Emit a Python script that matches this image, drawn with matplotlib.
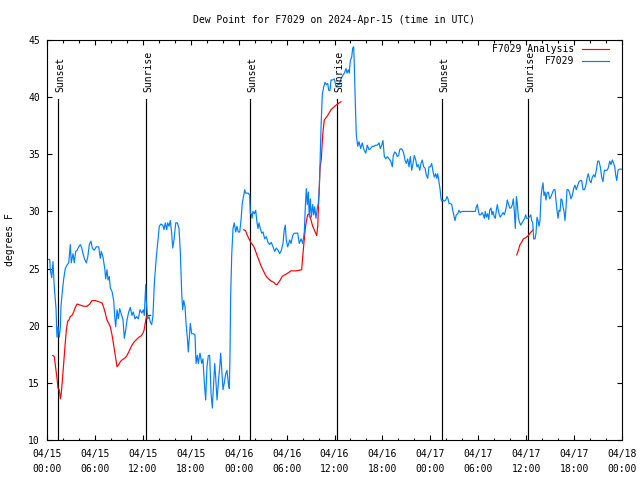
import matplotlib
matplotlib.use("Agg")
import matplotlib.pyplot as plt
from matplotlib.ticker import MultipleLocator

# ---- data (time in hours since 2024-04-15 00:00 UTC, dew point in F) ----
obs_hours = [0.00, 0.34, 0.41, 0.59, 0.75, 0.91, 1.13, 1.25, 1.38, 1.54, 1.67, 1.75, 1.92, 2.09, 2.29, 2.50,
             2.72, 2.92, 3.04, 3.26, 3.42, 3.59, 3.76, 3.97, 4.17, 4.35, 4.51, 4.67, 4.92, 5.10, 5.30, 5.51,
             5.67, 5.92, 6.17, 6.47, 6.67, 6.80, 7.01, 7.23, 7.35, 7.51, 7.64, 7.80, 7.93, 8.14, 8.35, 8.48,
             8.60, 8.77, 8.93, 9.10, 9.27, 9.52, 9.68, 9.85, 10.02, 10.23, 10.43, 10.64, 10.81, 11.02, 11.23,
             11.43, 11.65, 11.86, 12.06, 12.18, 12.36, 12.43, 12.61, 12.77, 12.94, 13.11, 13.27, 13.44, 13.65,
             13.86, 14.06, 14.27, 14.49, 14.65, 14.81, 14.99, 15.11, 15.28, 15.44, 15.61, 15.74, 15.90, 16.12,
             16.32, 16.53, 16.69, 16.87, 16.99, 17.12, 17.28, 17.41, 17.57, 17.69, 17.82, 17.94, 18.12, 18.32,
             18.53, 18.66, 18.82, 18.95, 19.16, 19.37, 19.53, 19.70, 19.87, 20.03, 20.20, 20.37, 20.54, 20.70,
             20.87, 21.00, 21.12, 21.29, 21.45, 21.63, 21.75, 21.88, 22.04, 22.20, 22.38, 22.54, 22.70, 22.83,
             22.91, 23.00, 23.13, 23.29, 23.45, 23.63, 23.79, 23.95, 24.13, 24.29, 24.45, 24.63, 24.76, 24.88,
             25.04, 25.21, 25.38, 25.46, 25.58, 25.67, 25.79, 25.96, 26.13, 26.30, 26.42, 26.55, 26.71, 26.88,
             27.05, 27.26, 27.46, 27.67, 27.89, 28.09, 28.30, 28.51, 28.71, 28.93, 29.14, 29.34, 29.55, 29.71,
             29.84, 29.96, 30.14, 30.39, 30.55, 30.77, 30.97, 31.18, 31.39, 31.59, 31.81, 32.02, 32.22, 32.34,
             32.47, 32.59, 32.72, 32.84, 32.97, 33.10, 33.27, 33.40, 33.52, 33.68, 33.85, 33.97, 34.10, 34.22,
             34.31, 34.47, 34.65, 34.81, 34.97, 35.15, 35.27, 35.44, 35.56, 35.77, 35.98, 36.19, 36.40, 36.60,
             36.81, 37.03, 37.23, 37.44, 37.57, 37.73, 37.85, 37.98, 38.15, 38.28, 38.40, 38.48, 38.60, 38.73,
             38.91, 39.07, 39.28, 39.48, 39.69, 39.91, 40.11, 40.32, 40.53, 40.73, 40.95, 41.16, 41.36, 41.57,
             41.74, 41.91, 42.07, 42.24, 42.41, 42.61, 42.82, 43.04, 43.24, 43.36, 43.54, 43.70, 43.86, 44.04,
             44.16, 44.33, 44.49, 44.66, 44.83, 44.99, 45.17, 45.33, 45.49, 45.67, 45.83, 45.99, 46.17, 46.33,
             46.49, 46.67, 46.83, 46.99, 47.17, 47.33, 47.49, 47.67, 47.83, 47.99, 48.17, 48.33, 48.50, 48.67,
             48.80, 48.92, 49.09, 49.21, 49.34, 49.42, 49.59, 49.75, 49.92, 50.09, 50.21, 50.34, 50.50, 50.68,
             50.80, 50.93, 51.09, 51.25, 51.43, 51.59, 51.75, 51.97, 53.63, 53.76, 53.88, 54.01, 54.13, 54.31,
             54.47, 54.63, 54.76, 54.88, 55.01, 55.18, 55.31, 55.43, 55.60, 55.72, 55.85, 56.01, 56.14, 56.26,
             56.39, 56.51, 56.64, 56.76, 56.94, 57.10, 57.26, 57.39, 57.51, 57.64, 57.76, 57.94, 58.10, 58.27,
             58.39, 58.51, 58.64, 58.77, 58.89, 59.02, 59.14, 59.32, 59.48, 59.64, 59.82, 59.94, 60.07, 60.23,
             60.39, 60.57, 60.69, 60.82, 60.94, 61.11, 61.23, 61.36, 61.48, 61.61, 61.73, 61.86, 61.98, 62.11,
             62.23, 62.36, 62.48, 62.61, 62.77, 62.95, 63.11, 63.27, 63.45, 63.61, 63.74, 63.86, 63.99, 64.11,
             64.24, 64.36, 64.49, 64.61, 64.74, 64.86, 64.99, 65.11, 65.28, 65.45, 65.61, 65.78, 65.95, 66.11,
             66.28, 66.45, 66.62, 66.78, 66.95, 67.12, 67.28, 67.45, 67.62, 67.78, 67.96, 68.12, 68.28, 68.46,
             68.62, 68.78, 68.96, 69.12, 69.28, 69.46, 69.62, 69.79, 69.96, 70.12, 70.28, 70.46, 70.62, 70.79,
             70.96, 71.09, 71.21, 71.34, 71.50, 71.66, 71.91]
obs_dewpt = [25.8, 25.8, 24.9, 24.2, 25.6, 23.4, 21.5, 19.0, 19.9, 19.0, 19.9, 21.7, 23.0, 24.1, 25.0, 25.3,
             25.5, 27.1, 25.5, 26.3, 25.5, 26.5, 26.6, 26.9, 27.1, 26.8, 26.3, 25.9, 25.5, 26.0, 27.1, 27.4,
             26.8, 26.6, 26.9, 26.9, 25.9, 26.5, 26.0, 25.0, 24.1, 24.9, 24.0, 24.3, 23.3, 23.0, 22.2, 20.8,
             19.9, 21.4, 20.6, 21.5, 21.1, 20.5, 18.9, 19.6, 20.5, 21.2, 21.6, 20.9, 21.2, 20.6, 20.8,
             20.6, 21.4, 21.1, 21.4, 20.9, 23.6, 22.2, 20.6, 20.8, 20.3, 20.1, 20.9, 23.7, 25.7,
             27.2, 28.7, 28.9, 28.8, 28.4, 29.0, 28.4, 29.0, 28.7, 29.2, 28.1, 26.8, 27.5, 29.0,
             29.0, 28.5, 26.5, 22.8, 21.4, 22.2, 21.7, 20.2, 19.0, 17.7, 18.9, 20.2, 19.3, 19.3,
             19.2, 16.7, 17.4, 16.7, 17.6, 16.7, 17.1, 15.0, 13.5, 16.4, 17.4, 17.4, 14.1, 12.8,
             15.0, 16.7, 15.5, 13.5, 15.0, 16.4, 17.6, 16.1, 14.4, 15.0, 15.8, 16.1, 15.0, 14.5,
             17.3, 22.7, 26.2, 28.5, 29.0, 28.2, 28.7, 28.2, 28.2, 29.2, 30.7, 31.4, 31.9, 31.6,
             31.6, 31.6, 31.4, 29.8, 29.8, 29.4, 30.0, 29.8, 30.1, 29.0, 28.5, 29.0, 28.5, 28.1,
             28.2, 27.6, 27.8, 27.3, 27.1, 27.3, 26.9, 26.5, 26.8, 26.6, 26.3, 26.6, 27.2, 28.4,
             28.8, 27.5, 26.9, 27.5, 27.2, 27.9, 28.1, 28.1, 28.1, 27.2, 27.6, 27.2, 28.2, 30.3,
             32.0, 30.6, 31.7, 29.5, 31.1, 29.5, 30.6, 29.7, 30.4, 29.4, 30.3, 30.7, 32.0, 34.9,
             37.3, 40.2, 40.9, 41.3, 41.1, 41.2, 40.6, 40.6, 41.5, 41.5, 41.6, 40.9, 41.1, 41.1,
             41.6, 41.9, 42.1, 42.5, 42.1, 42.4, 42.1, 43.2, 43.5, 44.3, 44.4, 42.8, 39.6, 36.7,
             35.7, 36.1, 35.5, 36.0, 35.4, 35.1, 35.8, 35.4, 35.5, 35.7, 35.7, 35.8, 35.8, 36.0,
             35.5, 35.8, 36.2, 34.8, 34.6, 34.8, 34.6, 34.4, 33.9, 34.9, 35.2, 35.1, 34.8, 34.9,
             35.4, 35.5, 35.4, 35.1, 34.5, 34.2, 34.6, 33.9, 34.8, 33.6, 34.2, 34.9, 34.5, 33.9,
             34.1, 33.6, 34.2, 34.5, 33.9, 33.8, 33.2, 32.9, 33.9, 33.9, 34.2, 33.5, 33.0, 33.3,
             32.9, 33.3, 32.5, 32.0, 31.1, 30.9, 31.0, 30.9, 31.0, 31.3, 31.1, 30.7, 30.7, 30.6,
             30.1, 29.7, 29.2, 29.7, 29.8, 30.1, 29.9, 30.0, 30.0, 30.4, 30.6, 30.1, 29.7, 29.7,
             29.9, 29.7, 29.4, 30.0, 29.5, 29.8, 29.3, 30.1, 30.3, 29.7, 30.0, 29.5, 29.4, 30.1,
             30.6, 30.1, 29.7, 29.5, 29.7, 29.9, 29.7, 30.0, 30.4, 31.0, 30.7, 30.3, 30.3, 30.6,
             31.1, 30.1, 28.5, 31.3, 30.7, 29.5, 29.1, 28.8, 29.0, 29.2, 29.4, 29.7, 29.4, 29.4,
             29.5, 29.7, 29.2, 29.0, 27.6, 27.6, 28.1, 29.5, 29.2, 28.7, 29.2, 31.3, 32.0, 32.5,
             31.4, 31.7, 31.0, 31.6, 31.7, 31.1, 31.3, 31.6, 31.9, 31.9, 30.9, 30.1, 29.4, 30.1,
             30.0, 31.1, 31.0, 30.4, 30.0, 29.2, 30.3, 31.9, 31.9, 31.6, 31.1, 31.4, 32.0, 32.3,
             31.9, 32.3, 32.6, 32.7, 32.7, 31.9, 31.9, 32.2, 32.9, 33.3, 32.7, 32.5, 33.0, 33.2,
             33.0, 33.6, 34.4, 34.4, 33.9, 33.0, 32.6, 33.6, 33.6, 33.6, 33.8, 34.4, 34.1, 34.5,
             34.2, 33.9, 33.2, 32.7, 33.6, 33.7, 33.7]

ana1_hours = [0.71, 0.91, 1.09, 1.25, 1.38, 1.54, 1.67, 1.79, 1.92, 2.09, 2.25, 2.42, 2.59, 2.75, 2.92, 3.13,
              3.34, 3.54, 3.76, 4.17, 4.60, 5.01, 5.35, 5.63, 6.05, 6.47, 6.89, 7.10, 7.30, 7.51, 7.73, 7.93,
              8.14, 8.35, 8.55, 8.77, 8.98, 9.18, 9.39, 9.60, 9.80, 10.02, 10.23, 10.43, 10.64, 10.93, 11.23,
              11.52, 11.77, 11.98, 12.15, 12.27, 12.40, 12.52, 12.77, 12.99]
ana1_dewpt = [17.4, 17.3, 16.3, 15.4, 14.5, 14.4, 13.6, 14.1, 15.2, 16.7, 18.2, 19.6, 20.4, 20.5, 20.8, 20.9,
              21.2, 21.6, 21.9, 21.8, 21.7, 21.7, 21.9, 22.2, 22.2, 22.1, 22.0, 21.6, 21.1, 20.5, 20.2, 19.9,
              19.2, 18.3, 17.4, 16.4, 16.6, 16.85, 17.0, 17.1, 17.2, 17.4, 17.7, 18.0, 18.3, 18.6, 18.8,
              19.0, 19.1, 19.3, 19.6, 20.1, 20.6, 20.9, 20.9, 20.9]
ana2_hours = [24.63, 24.88, 25.08, 25.30, 25.51, 25.71, 25.92, 26.13, 26.33, 26.55, 26.76, 26.96, 27.17, 27.38,
              27.59, 27.80, 28.09, 28.39, 28.64, 28.80, 29.01, 29.21, 29.43, 29.64, 29.89, 30.14, 30.55, 31.18,
              31.59, 31.89, 31.97, 32.09, 32.22, 32.34, 32.47, 32.64, 32.84, 33.27, 33.52, 33.77, 33.90, 34.02,
              34.19, 34.35, 34.52, 34.72, 35.15, 35.56, 36.19, 36.81]
ana2_dewpt = [28.4, 28.3, 27.9, 27.6, 27.3, 27.1, 26.9, 26.5, 26.1, 25.7, 25.3, 25.0, 24.7, 24.4,
              24.2, 24.06, 23.9, 23.8, 23.6, 23.6, 23.8, 24.0, 24.3, 24.4, 24.5, 24.6, 24.8, 24.8,
              24.85, 24.9, 25.6, 26.6, 27.6, 28.5, 29.1, 29.7, 29.8, 28.7, 28.3, 27.9, 28.7, 30.9,
              33.8, 34.6, 36.7, 38.0, 38.4, 38.9, 39.3, 39.6]
ana3_hours = [58.82, 59.02, 59.23, 59.44, 59.64, 59.94, 60.20, 60.39, 60.61, 60.90]
ana3_dewpt = [26.2, 26.6, 27.1, 27.3, 27.6, 27.7, 27.85, 28.0, 28.2, 28.4]

sun_hours = [1.41, 12.36, 25.46, 36.35, 49.50, 60.27]
sun_labels = ["Sunset", "Sunrise", "Sunset", "Sunrise", "Sunset", "Sunrise"]
sun_line_top = 39.8

tick_hours = [0, 6, 12, 18, 24, 30, 36, 42, 48, 54, 60, 66, 72]
tick_labels = ["04/15\n00:00", "04/15\n06:00", "04/15\n12:00", "04/15\n18:00",
               "04/16\n00:00", "04/16\n06:00", "04/16\n12:00", "04/16\n18:00",
               "04/17\n00:00", "04/17\n06:00", "04/17\n12:00", "04/17\n18:00",
               "04/18\n00:00"]

title = "Dew Point for F7029 on 2024-Apr-15 (time in UTC)"
ylabel = "degrees F"
ana_name = "F7029 Analysis"
obs_name = "F7029"

# ---- style ----
FONT = "DejaVu Sans Mono"
FS = 7
plt.rcParams['font.family'] = FONT
plt.rcParams['font.size'] = FS

fig = plt.figure(figsize=(6.4, 4.8), dpi=100)
ax = fig.add_axes([47 / 640, 40 / 480, 575 / 640, 400 / 480])

RED = "#ff0000"
BLUE = "#0080ff"
LW = 0.85

for h, lab in zip(sun_hours, sun_labels):
    ax.plot([h, h], [10, sun_line_top], color="black", lw=LW)
    ax.text(h + 0.3, sun_line_top + 0.65, lab, rotation=90, ha="center", va="bottom",
            fontsize=FS, family=FONT)

ax.plot(ana1_hours, ana1_dewpt, color=RED, lw=LW, label=ana_name)
ax.plot(ana2_hours, ana2_dewpt, color=RED, lw=LW)
ax.plot(ana3_hours, ana3_dewpt, color=RED, lw=LW)
ax.plot(obs_hours, obs_dewpt, color=BLUE, lw=LW, label=obs_name)

ax.set_xlim(0, 72)
ax.set_ylim(10, 45)
ax.set_xticks(tick_hours)
ax.set_xticklabels(tick_labels, linespacing=1.62)
ax.xaxis.set_minor_locator(MultipleLocator(2))
ax.set_yticks(range(10, 46, 5))

ax.tick_params(axis="both", which="both", direction="in", top=True, right=True,
               labelsize=FS, width=0.8)
ax.tick_params(axis="both", which="major", length=3.6)
ax.tick_params(axis="both", which="minor", length=1.8)
ax.tick_params(axis="x", which="major", pad=6.5)
ax.tick_params(axis="y", which="major", pad=5)
for s in ax.spines.values():
    s.set_linewidth(0.8)

leg = ax.legend(loc="upper right", bbox_to_anchor=((609 - 47) / 575, (440 - 44) / 400),
                frameon=False, markerfirst=False, fontsize=FS, handlelength=2.8,
                handletextpad=0.8, borderpad=0, borderaxespad=0, labelspacing=0.2)

fig.text(334 / 640, 1 - 20 / 480, title, ha="center", va="center", fontsize=FS)
fig.text(10 / 640, 240 / 480, ylabel, rotation=90, ha="center", va="center", fontsize=FS)

fig.savefig("out.png", dpi=100)
